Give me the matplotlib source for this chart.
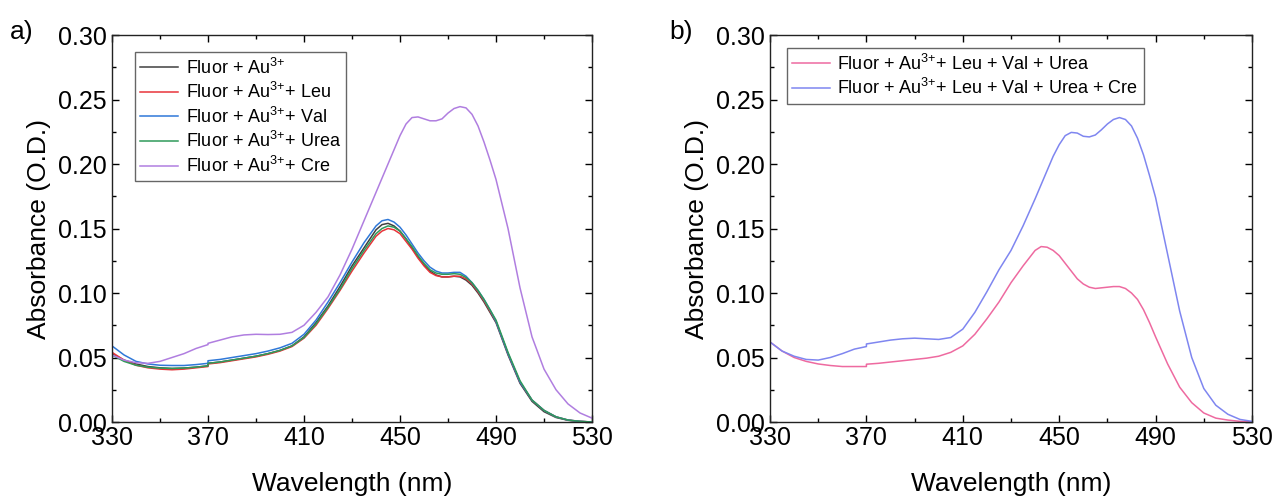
import matplotlib
matplotlib.use('Agg')
import matplotlib.pyplot as plt

plt.rcParams['font.family'] = ['Liberation Sans', 'DejaVu Sans']
plt.rcParams['mathtext.default'] = 'regular'

# wavelength grid (nm); 370 appears twice because of the lamp switch step
wl = [330, 335, 340, 345, 350, 355, 360, 365, 370, 370, 375, 380, 385, 390, 395,
      400, 405, 410, 415, 420, 425, 430, 435, 440,
      442.5, 445, 447.5, 450, 452.5, 455, 457.5, 460, 462.5, 465,
      467.5, 470, 472.5, 475, 477.5, 480, 482.5, 485, 487.5, 490,
      495, 500, 505, 510, 515, 520, 525, 530]

# panel a
au = [.053, .048, .045, .043, .042, .0415, .0418, .0425, .0435, .0455, .0465, .048, .0495, .051, .053,
      .0555, .059, .066, .077, .090, .105, .121, .135, .149,
      .153, .154, .152, .148, .142, .135, .128, .122, .117, .114,
      .1125, .1125, .113, .1125, .110, .106, .100, .093, .085, .077,
      .052, .030, .016, .008, .0035, .0013, .0004, 0.0]
leu = [.054, .048, .044, .042, .041, .0405, .041, .042, .043, .045, .046, .0475, .049, .0505, .0525,
       .055, .0585, .065, .075, .088, .102, .117, .131, .144,
       .148, .150, .149, .146, .140, .134, .127, .121, .116, .1135,
       .1125, .1125, .113, .113, .111, .107, .101, .094, .086, .078,
       .053, .031, .017, .009, .004, .0015, .0005, 0.0]
val = [.059, .052, .047, .045, .044, .0438, .0438, .0445, .0455, .0475, .0485, .050, .0515, .053, .055,
       .0575, .061, .068, .079, .093, .108, .124, .139, .152,
       .156, .157, .155, .151, .145, .138, .131, .125, .120, .117,
       .1155, .1155, .116, .116, .113, .108, .102, .095, .087, .078,
       .053, .031, .017, .009, .004, .0015, .0005, 0.0]
urea = [.052, .047, .044, .0425, .0418, .0415, .0418, .0425, .0435, .0455, .0465, .048, .0495, .051, .053,
        .0555, .059, .0655, .076, .089, .103, .119, .133, .146,
        .150, .152, .151, .148, .142, .136, .129, .123, .118, .1155,
        .1145, .1145, .115, .1145, .112, .108, .102, .095, .087, .079,
        .054, .032, .017, .009, .004, .0015, .0005, 0.0]
cre = [.052, .048, .046, .0455, .047, .050, .053, .057, .060, .061, .0635, .066, .0675, .068, .0678,
       .068, .0695, .075, .085, .097, .114, .134, .156, .178,
       .189, .200, .211, .222, .231, .236, .2365, .235, .2335, .2335,
       .235, .2395, .243, .2445, .2435, .2385, .2295, .217, .203, .188,
       .150, .104, .066, .041, .025, .014, .007, .003]

# panel b
mix = [.062, .055, .050, .047, .045, .0438, .043, .043, .043, .0448, .0455, .0465, .0475, .0485, .0495,
       .051, .054, .059, .068, .080, .093, .108, .121, .133,
       .136, .1355, .133, .129, .123, .117, .111, .107, .1045, .1035,
       .104, .1045, .105, .105, .1035, .100, .095, .087, .077, .066,
       .045, .027, .015, .007, .003, .0015, .0005, 0.0]
mix_cre = [.062, .055, .051, .0485, .048, .050, .053, .0565, .0585, .0605, .062, .0635, .0645, .065, .0645,
           .064, .0655, .072, .085, .101, .118, .133, .152, .173,
           .184, .195, .206, .215, .222, .2245, .224, .2215, .221, .2225,
           .2265, .231, .2345, .236, .2345, .2295, .220, .207, .191, .174,
           .130, .086, .050, .026, .013, .006, .002, .0005]

series_a = [
    (au, 'Fluor + Au$^{3{+}}$', '#404040'),
    (leu, 'Fluor + Au$^{3{+}}$+ Leu', '#e8343a'),
    (val, 'Fluor + Au$^{3{+}}$+ Val', '#2f78d8'),
    (urea, 'Fluor + Au$^{3{+}}$+ Urea', '#2f9a5a'),
    (cre, 'Fluor + Au$^{3{+}}$+ Cre', '#b07ee0'),
]
series_b = [
    (mix, 'Fluor + Au$^{3{+}}$+ Leu + Val + Urea', '#ee6aa0'),
    (mix_cre, 'Fluor + Au$^{3{+}}$+ Leu + Val + Urea + Cre', '#7f86f0'),
]

fig = plt.figure(figsize=(12.77, 4.98), dpi=100)
ax_a = fig.add_axes([0.0877, 0.1526, 0.3759, 0.7771])
ax_b = fig.add_axes([0.6030, 0.1526, 0.3774, 0.7771])


def style(ax):
    ax.set_xlim(330, 530)
    ax.set_ylim(0, 0.30)
    ax.set_xticks(range(330, 531, 40))
    ax.set_xticks(range(350, 531, 40), minor=True)
    ax.set_yticks([0, 0.05, 0.10, 0.15, 0.20, 0.25, 0.30])
    ax.set_yticks([0.025, 0.075, 0.125, 0.175, 0.225, 0.275], minor=True)
    ax.set_yticklabels(['0.00', '0.05', '0.10', '0.15', '0.20', '0.25', '0.30'])
    ax.tick_params(which='both', direction='in', top=True, right=True, width=1.0, labelsize=18)
    ax.tick_params(which='major', length=5)
    ax.tick_params(which='minor', length=3)
    ax.tick_params(axis='x', pad=3)
    ax.tick_params(axis='y', pad=4)
    for s in ax.spines.values():
        s.set_linewidth(1.0)
        s.set_color('#222222')
    ax.set_xlabel('Wavelength (nm)', fontsize=19, labelpad=16)
    ax.set_ylabel('Absorbance (O.D.)', fontsize=19, labelpad=5)


for ys, lab, c in series_a:
    ax_a.plot(wl, ys, color=c, lw=1.1, label=lab)
for ys, lab, c in series_b:
    ax_b.plot(wl, ys, color=c, lw=1.1, label=lab)

style(ax_a)
style(ax_b)

leg_kw = dict(loc='upper left', borderaxespad=0, fancybox=False, framealpha=1,
              edgecolor='#666666', fontsize=13, handlelength=2.1, labelspacing=0.25,
              handletextpad=0.4, borderpad=0.3)
la = ax_a.legend(bbox_to_anchor=(0.048, 0.956), **leg_kw)
lb = ax_b.legend(bbox_to_anchor=(0.035, 0.966), **leg_kw)
for lg in (la, lb):
    lg.get_frame().set_linewidth(1.0)

fig.text(0.008, 0.936, 'a)', fontsize=19, va='center')
fig.text(0.524, 0.936, 'b)', fontsize=19, va='center')

fig.savefig('out.png', dpi=100)
